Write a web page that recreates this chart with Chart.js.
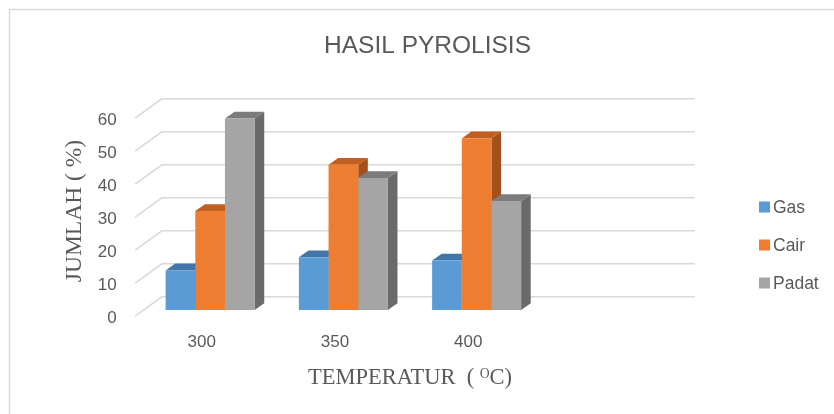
<!DOCTYPE html>
<html>
<head>
<meta charset="utf-8">
<script src="https://cdn.jsdelivr.net/npm/chart.js@4.4.1/dist/chart.umd.min.js"></script>
<style>
  html, body { margin: 0; padding: 0; background: #fff; }
  canvas { display: block; }
</style>
</head>
<body>
<canvas id="chart" width="834" height="414"></canvas>
<script>
// data
var categories = ['300', '350', '400', ''];
var gas = [12, 16, 15, null];
var cair = [30, 44, 52, null];
var padat = [58, 40, 33, null];
var yTicks = [0, 10, 20, 30, 40, 50, 60];

var TEXT = '#595959';
var SANS = '"Liberation Sans", Arial, sans-serif';
var SERIF = '"Liberation Serif", "Times New Roman", serif';

// fake 3D: offsets of the front and back walls from the bar plane, bar depth
var FRONT = { dx: -8.4, dy: 6.2 };
var BACK = { dx: 18.4, dy: -13.2 };
var DEPTH = { dx: 9.6, dy: -6.8 };

// white background + light frame
const framePlugin = {
    id: 'frame',
    beforeDraw(chart) {
        const ctx = chart.ctx;
        ctx.save();
        ctx.fillStyle = '#fff';
        ctx.fillRect(0, 0, chart.width, chart.height);
        ctx.strokeStyle = '#d9d9d9';
        ctx.lineWidth = 1.5;
        ctx.strokeRect(9.5, 9.5, chart.width + 20, chart.height + 20);
        ctx.restore();
    }
};

// floor/back wall gridlines and the side + top faces of every bar
const depthPlugin = {
    id: 'depth',
    beforeDatasetsDraw(chart) {
        const ctx = chart.ctx, a = chart.chartArea, ys = chart.scales.y;
        ctx.save();
        ctx.strokeStyle = '#d9d9d9';
        ctx.lineWidth = 1.5;
        ys.ticks.forEach(t => {
            const py = ys.getPixelForValue(t.value);
            ctx.beginPath();
            ctx.moveTo(a.left + FRONT.dx, py + FRONT.dy);
            ctx.lineTo(a.left + BACK.dx, py + BACK.dy);
            ctx.lineTo(a.right + BACK.dx, py + BACK.dy);
            ctx.stroke();
        });

        chart.data.datasets.forEach((ds, i) => {
            chart.getDatasetMeta(i).data.forEach((el, j) => {
                if (ds.data[j] == null) return;
                const l = el.x - el.width / 2, r = el.x + el.width / 2;
                const top = el.y, base = el.base;
                // side
                ctx.fillStyle = ds.sideColor;
                ctx.beginPath();
                ctx.moveTo(r, top);
                ctx.lineTo(r + DEPTH.dx, top + DEPTH.dy);
                ctx.lineTo(r + DEPTH.dx, base + DEPTH.dy);
                ctx.lineTo(r, base);
                ctx.closePath();
                ctx.fill();
                // top
                ctx.fillStyle = ds.topColor;
                ctx.beginPath();
                ctx.moveTo(l, top);
                ctx.lineTo(r, top);
                ctx.lineTo(r + DEPTH.dx, top + DEPTH.dy);
                ctx.lineTo(l + DEPTH.dx, top + DEPTH.dy);
                ctx.closePath();
                ctx.fill();
            });
        });
        ctx.restore();
    }
};

// legend on the right, built from the datasets
const legendPlugin = {
    id: 'sideLegend',
    afterDraw(chart) {
        const ctx = chart.ctx;
        ctx.save();
        ctx.font = '17.5px ' + SANS;
        ctx.textBaseline = 'middle';
        chart.data.datasets.forEach((ds, i) => {
            const cy = 207 + i * 38;
            ctx.fillStyle = ds.backgroundColor;
            ctx.fillRect(759, cy - 5.5, 11, 11);
            ctx.fillStyle = TEXT;
            ctx.fillText(ds.label, 773, cy + 1);
        });
        ctx.restore();
    }
};

const ctx = document.getElementById('chart').getContext('2d');
const barchart = new Chart(ctx, {
    type: 'bar',
    data: {
        labels: categories,
        datasets: [
            { label: 'Gas', data: gas, backgroundColor: '#5b9bd5', topColor: '#4276a8', sideColor: '#37628c' },
            { label: 'Cair', data: cair, backgroundColor: '#ed7d31', topColor: '#c05f1f', sideColor: '#a3501a' },
            { label: 'Padat', data: padat, backgroundColor: '#a5a5a5', topColor: '#7c7c7c', sideColor: '#6a6a6a' }
        ]
    },
    options: {
        responsive: false,
        animation: false,
        devicePixelRatio: 1,
        layout: { padding: { left: 21, right: 0, top: 0, bottom: 0 } },
        datasets: {
            bar: { categoryPercentage: 0.668, barPercentage: 1, borderWidth: 0 }
        },
        plugins: {
            legend: { display: false },
            tooltip: { enabled: false },
            title: {
                display: true,
                text: 'HASIL PYROLISIS',
                color: TEXT,
                font: { family: SANS, size: 24.5, weight: 'normal', lineHeight: 1.2 },
                padding: { top: 32, bottom: 50.6 }
            }
        },
        scales: {
            x: {
                grid: { display: false, drawTicks: false },
                border: { display: false },
                ticks: { color: TEXT, font: { family: SANS, size: 17 }, padding: 21.8, labelOffset: FRONT.dx },
                title: {
                    display: true,
                    text: 'TEMPERATUR  ( \u1D3CC)',
                    color: TEXT,
                    font: { family: SERIF, size: 22.5, lineHeight: 1.2 },
                    padding: { top: 0, bottom: 22.5 }
                },
                afterFit: s => { s.height = 104; }
            },
            y: {
                min: 0,
                max: 60,
                grid: { display: false, drawTicks: false },
                border: { display: false },
                afterBuildTicks: s => { s.ticks = yTicks.map(v => ({ value: v })); },
                ticks: { color: TEXT, font: { family: SANS, size: 17 }, padding: 26.8, labelOffset: 8 },
                title: {
                    display: true,
                    text: 'JUMLAH ( %)',
                    color: TEXT,
                    font: { family: SERIF, size: 23.5, lineHeight: 1.2 },
                    padding: { top: 40, bottom: 0 }
                },
                afterFit: s => { s.width = 122.5; }
            },
            // empty right-hand box that keeps the legend column free
            side: {
                type: 'linear',
                position: 'right',
                display: true,
                grid: { display: false, drawTicks: false },
                border: { display: false },
                ticks: { display: false },
                afterFit: s => { s.width = 157.5; }
            }
        }
    },
    plugins: [framePlugin, depthPlugin, legendPlugin]
});
</script>
</body>
</html>
